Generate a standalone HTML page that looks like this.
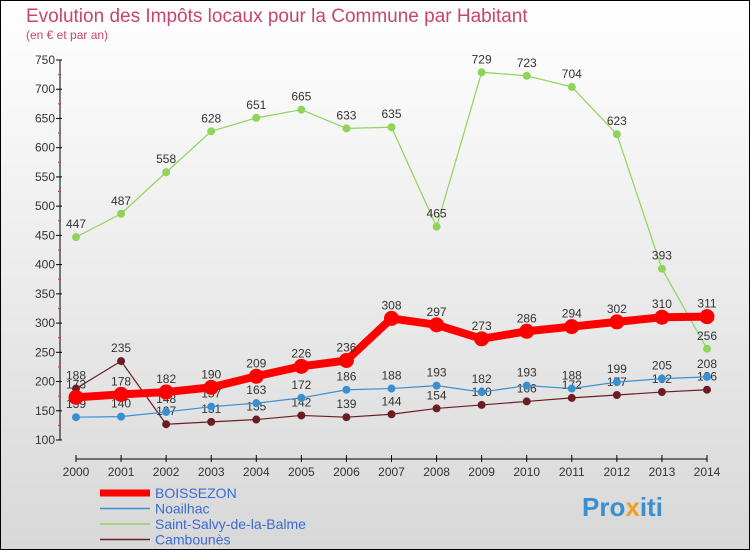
<!DOCTYPE html>
<html><head><meta charset="utf-8"><style>
body{margin:0}
#c{width:750px;height:550px;position:relative;overflow:hidden;font-family:"Liberation Sans",sans-serif}
</style></head><body>
<div id="c">
<svg id="s" width="750" height="550" xmlns="http://www.w3.org/2000/svg">
<defs><linearGradient id="bg" x1="0" y1="0" x2="0" y2="1"><stop offset="0" stop-color="#ffffff"/><stop offset="1" stop-color="#d8d8d8"/></linearGradient></defs>
<rect x="0.5" y="0.5" width="749" height="549" fill="url(#bg)" stroke="#000"/>
<text x="26" y="22" font-size="19" fill="#c8446e">Evolution des Impôts locaux pour la Commune par Habitant</text>
<text x="26" y="39" font-size="12" fill="#c8446e">(en € et par an)</text>
<g id="axes"></g><g id="series"></g><g id="legend"></g>
<text x="582" y="516" font-size="26" font-weight="bold" fill="#3a8fd0">Pro<tspan fill="#f0a020">x</tspan>iti</text>
</svg></div>
<script>
const years=[2000,2001,2002,2003,2004,2005,2006,2007,2008,2009,2010,2011,2012,2013,2014];
const yTicks=[100,150,200,250,300,350,400,450,500,550,600,650,700,750];
const boissezon=[173,178,182,190,209,226,236,308,297,273,286,294,302,310,311];
const noailhac=[139,140,148,157,163,172,186,188,193,182,193,188,199,205,208];
const saintSalvy=[447,487,558,628,651,665,633,635,465,729,723,704,623,393,256];
const cambounes=[188,235,127,131,135,142,139,144,154,160,166,172,177,182,186];
const NS="http://www.w3.org/2000/svg";
const X=i=>76+i*(707-76)/14, Y=v=>440-(v-100)*380/650;
function el(t,a,p){const e=document.createElementNS(NS,t);for(const k in a)e.setAttribute(k,a[k]);p.appendChild(e);return e;}
const ax=document.getElementById('axes');
const ya=el('line',{x1:60,y1:60,x2:60,y2:440,stroke:'#000'},ax);


const xa=el('line',{x1:76,y1:459,x2:707,y2:459,stroke:'#000'},ax);


yTicks.forEach(v=>{el('line',{x1:56,y1:Y(v),x2:62,y2:Y(v),stroke:'#000'},ax);
 if(v<750)el('line',{x1:58,y1:Y(v+25),x2:61,y2:Y(v+25),stroke:'#e03030'},ax);
 const t=el('text',{x:55,y:Y(v)+4,'font-size':12,'text-anchor':'end',fill:'#333'},ax);t.textContent=v;
 
 });
years.forEach((yr,i)=>{el('line',{x1:X(i),y1:455,x2:X(i),y2:462,stroke:'#000'},ax);
 const t=el('text',{x:X(i),y:476,'font-size':12,'text-anchor':'middle',fill:'#333'},ax);t.textContent=yr;
 
 });
const sg=document.getElementById('series');
function series(d,col,w,r,name,fill){
 const g=el('g',{},sg);
 
 
 el('polyline',{points:d.map((v,i)=>X(i)+','+Y(v)).join(' '),fill:'none',stroke:col,'stroke-width':w,'stroke-linejoin':'round'},g);
 d.forEach((v,i)=>{const c=el('circle',{cx:X(i),cy:Y(v),r:r,fill:fill,stroke:col,'stroke-width':1},g);
  
  
  const t=el('text',{x:X(i),y:Y(v)-9,'font-size':12,'text-anchor':'middle',fill:'#333'},g);t.textContent=v;
  
  });
}
series(saintSalvy,'#8ed45a',1.2,3.5,'saint-salvy-series','#8ed45a');
series(cambounes,'#6b1e22',1.2,3.5,'cambounes-series','#6b1e22');
series(noailhac,'#3a8fd0',1.2,3.5,'noailhac-series','#3a8fd0');
series(boissezon,'#ff0000',8,7,'boissezon-series','#ff0000');
const lg=document.getElementById('legend');
[['BOISSEZON','#ff0000',7],['Noailhac','#3a8fd0',1.5],['Saint-Salvy-de-la-Balme','#8ed45a',1.5],['Cambounès','#6b1e22',1.5]].forEach((e,i)=>{
 const y=493+i*15.5;const g=el('g',{},lg);
 
 
 el('line',{x1:100,y1:y,x2:150,y2:y,stroke:e[1],'stroke-width':e[2]},g);
 const t=el('text',{x:155,y:y+5,'font-size':14,fill:'#3a6bd0'},g);t.textContent=e[0];});
</script>
</body></html>
